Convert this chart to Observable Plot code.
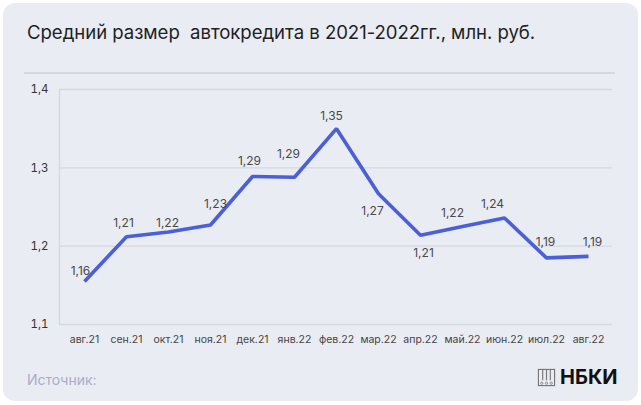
<!DOCTYPE html>
<html>
<head>
<meta charset="utf-8">
<script src="https://cdn.jsdelivr.net/npm/d3@7"></script>
<script src="https://cdn.jsdelivr.net/npm/@observablehq/plot@0.6"></script>
<style>
  html, body { margin: 0; padding: 0; background: #ffffff; width: 641px; height: 405px; overflow: hidden; }
  body { font-family: Inter, "Noto Sans", sans-serif; position: relative; }
  #card { position: absolute; left: 3px; top: 3px; width: 635px; height: 398px; background: #e9ecf3; border-radius: 12px; }
  #title { position: absolute; left: 27px; top: 21px; font-size: 18.6px; color: #1f1f24; white-space: pre; letter-spacing: -0.05px; }
  #sep { position: absolute; left: 24px; top: 72px; width: 591px; height: 2px; background: #d3d8e3; }
  #chart { position: absolute; left: 0; top: 80px; }
  #source { position: absolute; left: 27px; top: 371px; font-size: 14px; color: #a9abc9; }
  #logo { position: absolute; left: 537px; top: 365px; display: flex; align-items: center; }
  #logo span { font-size: 20px; font-weight: 700; color: #111; letter-spacing: 0px; margin-left: 4px; }
</style>
</head>
<body>
<div id="card"></div>
<div id="title">Средний размер  автокредита в 2021-2022гг., млн. руб.</div>
<div id="sep"></div>
<div id="chart"></div>
<div id="source">Источник:</div>
<div id="logo">
  <svg width="19" height="19" viewBox="0 0 20 20">
    <rect x="1.5" y="1.5" width="17" height="17" fill="none" stroke="#777" stroke-width="1.2"/>
    <line x1="6" y1="1.5" x2="6" y2="13" stroke="#777" stroke-width="1.2"/>
    <line x1="10" y1="1.5" x2="10" y2="13" stroke="#777" stroke-width="1.2"/>
    <line x1="14" y1="1.5" x2="14" y2="13" stroke="#777" stroke-width="1.2"/>
    <circle cx="5" cy="16" r="1.2" fill="none" stroke="#777" stroke-width="0.8"/>
    <circle cx="10" cy="16" r="1.2" fill="none" stroke="#777" stroke-width="0.8"/>
    <circle cx="15" cy="16" r="1.2" fill="none" stroke="#777" stroke-width="0.8"/>
  </svg>
  <span>НБКИ</span>
</div>
<script>
const months = ["авг.21","сен.21","окт.21","ноя.21","дек.21","янв.22","фев.22","мар.22","апр.22","май.22","июн.22","июл.22","авг.22"];
const values = [1.155, 1.212, 1.218, 1.227, 1.289, 1.288, 1.35, 1.267, 1.214, 1.225, 1.236, 1.185, 1.187];
const labels = ["1,16","1,21","1,22","1,23","1,29","1,29","1,35","1,27","1,21","1,22","1,24","1,19","1,19"];
const yTicks = [1.1, 1.2, 1.3, 1.4];

// label placement offsets (layout only)
const labelDx = [-4, -3, -1, 5, -3, -6, -5, -6, 3, -10, -12, -1, 4];
const labelDy = [-10, -14, -9, -21, -15, -23, -13, 17, 18, -13, -14, -16, -14];

const data = months.map((m, i) => ({month: m, value: values[i], label: labels[i]}));
const fmt = d => d.toFixed(1).replace(".", ",");

const gridColor = "#d3d8e3";

const chart = Plot.plot({
  width: 641,
  height: 275,
  marginLeft: 59,
  marginRight: 29,
  marginTop: 9,
  marginBottom: 31,
  style: {background: "transparent", fontFamily: "Inter, 'Noto Sans', sans-serif", color: "#444"},
  x: {type: "point", domain: months, padding: 0.5, label: null},
  y: {domain: [1.1, 1.4], ticks: yTicks, label: null, tickFormat: fmt},
  marks: [
    Plot.gridY(yTicks, {stroke: gridColor, strokeOpacity: 1, strokeWidth: 1.3}),
    Plot.frame({anchor: "left", stroke: gridColor, strokeWidth: 1.3}),
    Plot.axisY(yTicks, {tickSize: 0, tickPadding: 11, tickFormat: fmt, fontSize: 11.5, fill: "#333"}),
    Plot.axisX({tickSize: 0, tickPadding: 11, fontSize: 10.5, fill: "#444"}),
    Plot.line(data, {x: "month", y: "value", stroke: "#4a5fd8", strokeWidth: 3.6, strokeLinejoin: "miter", strokeLinecap: "butt"}),
    ...data.map((d, i) => Plot.text([d], {x: "month", y: "value", text: "label", dx: labelDx[i], dy: labelDy[i], fontSize: 12, fill: "#4a4a4a"}))
  ]
});
document.getElementById("chart").appendChild(chart);
</script>
</body>
</html>
